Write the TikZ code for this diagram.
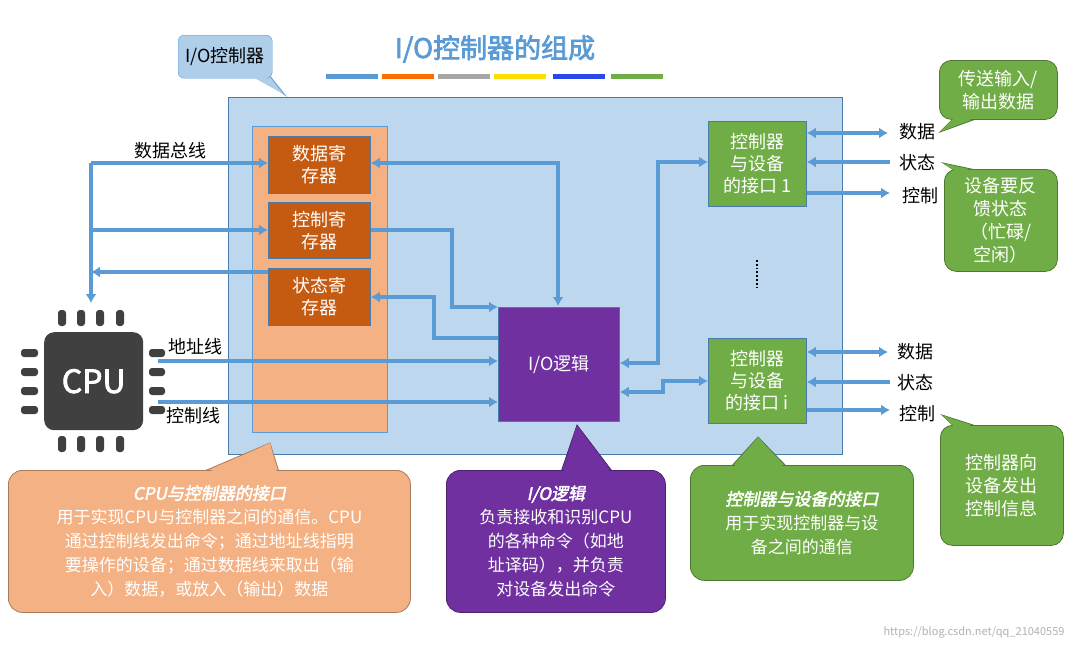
\documentclass[tikz,border=0pt]{standalone}
\usepackage{fontspec}
\setmainfont{Noto Sans CJK SC}[AutoFakeBold=2.5,AutoFakeSlant=0.2]
\usetikzlibrary{arrows.meta}
\definecolor{ln}{RGB}{91,155,213}
\definecolor{bgb}{RGB}{189,215,238}
\definecolor{orl}{RGB}{244,177,131}
\definecolor{ord}{RGB}{197,90,17}
\definecolor{pur}{RGB}{112,48,160}
\definecolor{grn}{RGB}{112,173,71}
\definecolor{cpu}{RGB}{64,64,64}
\definecolor{ttl}{RGB}{91,155,213}
\begin{document}
\begin{tikzpicture}[x=1pt,y=-1pt,
  ar/.style={draw=ln,line width=3.2pt,-{Latex[length=9pt,width=11pt]}},
  dar/.style={draw=ln,line width=3.2pt,{Latex[length=9pt,width=11pt]}-{Latex[length=9pt,width=11pt]}},
  box/.style={draw=ln!80!black,line width=0.8pt,inner sep=0pt,anchor=north west,text=white,align=center,font=\fontsize{18}{22}\selectfont},
  lab/.style={font=\fontsize{18}{20}\selectfont,inner sep=1pt},
  cbord/.style={line width=0.8pt},
  pin/.style={fill=cpu,rounded corners=3pt}]
\useasboundingbox (0,0) rectangle (1073,651);
\fill[white] (0,0) rectangle (1073,651);
% title
\node[font=\fontsize{27}{30}\selectfont\bfseries,text=ttl] (title) at (495,49) {I/O控制器的组成};
\foreach \a/\b/\c in {326/378/ln,382/434/orange!85!red,438/490/gray!70,494/546/yellow!80!orange,553/605/blue!55!ln,611/663/grn}
  \fill[\c] (\a,74) rectangle (\b,79);
% main box
\node[box,fill=bgb,minimum width=614pt,minimum height=357pt] (main) at (228,97) {};
\node[box,fill=orl,draw=ln,minimum width=135pt,minimum height=306pt] (col) at (252,126) {};
\node[box,fill=ord,minimum width=102pt,minimum height=57pt] (r1) at (268,136) {数据寄\\存器};
\node[box,fill=ord,minimum width=102pt,minimum height=56pt] (r2) at (268,202) {控制寄\\存器};
\node[box,fill=ord,minimum width=102pt,minimum height=57pt] (r3) at (268,268) {状态寄\\存器};
\node[box,fill=pur,minimum width=121pt,minimum height=114pt] (io) at (498,307) {I/O逻辑};
\node[box,fill=grn,minimum width=98pt,minimum height=85pt] (if1) at (708,121) {控制器\\与设备\\的接口 1};
\node[box,fill=grn,minimum width=98pt,minimum height=85pt] (ifi) at (708,338) {控制器\\与设备\\的接口 i};
\draw[line width=1.8pt,dotted] (757,260) -- (757,287);
% I/O controller callout
\fill[bgb!85!ln,draw=ln,cbord] (250,70) -- (285,95) -- (265,70) -- cycle;
\node[draw=ln,fill=bgb!85!ln,rounded corners=6pt,minimum width=94pt,minimum height=43pt,lab,anchor=north west,inner sep=0pt] (c0) at (178,35) {I/O控制器};
\fill[bgb!85!ln] (251,76) -- (285,95) -- (264,76) -- cycle;
% CPU
\node[fill=cpu,rounded corners=10pt,minimum width=99pt,minimum height=98pt,anchor=north west,text=white,font=\fontsize{32}{32}\selectfont\bfseries] (cpu) at (44,332) {CPU};
\foreach \x in {62,81,100,120} {\fill[pin] (\x-4,310) rectangle (\x+4,326); \fill[pin] (\x-4,436) rectangle (\x+4,452);}
\foreach \y in {353,372,391,410} {\fill[pin] (21,\y-4) rectangle (38,\y+4); \fill[pin] (149,\y-4) rectangle (165,\y+4);}
% data bus
\coordinate (bus) at (91,163);
\coordinate (cpuin) at (91,303);
\draw[ar] (bus) -- (r1.west |- bus);
\draw[ar] (bus) -- (cpuin);
\draw[ar] (bus |- 0,230) -- (r2.west |- 0,230);
\draw[ar] (r3.west |- 0,272) -- (bus |- 0,272);
\node[lab] (dbl) at (170,151) {数据总线};
\draw[dar] (r1.east |- 0,163) -- (558,163) -- (558,306);
\draw[ar] (r2.east |- 0,230) -- (452,230) -- (452,307) -- (io.west |- 0,307);
\draw[ar] (io.west |- 0,338) -- (434,338) -- (434,297) -- (r3.east |- 0,297);
\draw[ar] (158,361) -- (io.west |- 0,361);
\draw[ar] (158,402) -- (io.west |- 0,402);
\node[lab] (addr) at (195,347) {地址线};
\node[lab] (ctl) at (193,416) {控制线};
\draw[dar] (io.east |- 0,363) -- (658,363) -- (658,162) -- (if1.west |- 0,162);
\draw[dar] (io.east |- 0,392) -- (663,392) -- (663,381) -- (ifi.west |- 0,381);
% interface lines
\foreach \n/\a/\b/\c in {if1/133/162/193,ifi/352/382/410}{
  \draw[dar] (\n.east |- 0,\a) -- (888,\a);
  \draw[ar] (890,\b) -- (\n.east |- 0,\b);
  \draw[ar] (\n.east |- 0,\c) -- (890,\c);
}
\node[lab] (d1) at (917,132) {数据};
\node[lab] (s1) at (917,163) {状态};
\node[lab] (k1) at (920,196) {控制};
\node[lab] (d2) at (915,352) {数据};
\node[lab] (s2) at (915,383) {状态};
\node[lab] (k2) at (917,414) {控制};
% right callouts
\tikzset{gcall/.style={draw=grn!70!black,fill=grn,rounded corners=12pt,cbord,anchor=north west,text=white,align=center,font=\fontsize{18}{23}\selectfont,inner sep=0pt}}
\draw[grn!70!black,fill=grn,cbord] (960,112) -- (940,132) -- (995,112);
\node[gcall,minimum width=118pt,minimum height=59pt] (g1) at (939,60) {传送输入/\\输出数据};
\fill[grn] (962,110) -- (940,132) -- (993,110) -- cycle;
\draw[grn!70!black,fill=grn,cbord] (960,174) -- (943,163) -- (995,174);
\node[gcall,minimum width=113pt,minimum height=102pt] (g2) at (944,169) {设备要反\\馈状态\\（忙碌/\\空闲）};
\fill[grn] (962,176) -- (943,163) -- (993,176) -- cycle;
\draw[grn!70!black,fill=grn,cbord] (960,432) -- (942,415) -- (995,432);
\node[gcall,minimum width=123pt,minimum height=120pt] (g3) at (940,425) {控制器向\\设备发出\\控制信息};
\fill[grn] (962,434) -- (942,415) -- (993,434) -- cycle;
% bottom callouts
\draw[orl!70!black,fill=orl,cbord] (195,475) -- (270,443) -- (280,475);
\node[draw=orl!70!black,fill=orl,rounded corners=14pt,cbord,anchor=north west,minimum width=402pt,minimum height=142pt,inner sep=0pt,text=white,align=center,font=\fontsize{17}{24}\selectfont] (cc) at (8,470) {{\bfseries\itshape CPU与控制器的接口}\\用于实现CPU与控制器之间的通信。CPU\\通过控制线发出命令；通过地址线指明\\要操作的设备；通过数据线来取出（输\\入）数据，或放入（输出）数据};
\fill[orl] (198,477) -- (270,443) -- (278,477) -- cycle;
\draw[pur!70!black,fill=pur,cbord] (560,475) -- (577,425) -- (615,475);
\node[draw=pur!70!black,fill=pur,rounded corners=14pt,cbord,anchor=north west,minimum width=219pt,minimum height=142pt,inner sep=0pt,text=white,align=center,font=\fontsize{17}{24}\selectfont] (ci) at (446,470) {{\bfseries\itshape I/O逻辑}\\负责接收和识别CPU\\的各种命令（如地\\址译码），并负责\\对设备发出命令};
\fill[pur] (562,477) -- (577,425) -- (613,477) -- cycle;
\draw[grn!70!black,fill=grn,cbord] (728,470) -- (758,437) -- (790,470);
\node[draw=grn!70!black,fill=grn,rounded corners=14pt,cbord,anchor=north west,minimum width=223pt,minimum height=115pt,inner sep=0pt,text=white,align=center,font=\fontsize{17}{24}\selectfont] (cg) at (690,465) {{\bfseries\itshape 控制器与设备的接口}\\用于实现控制器与设\\备之间的通信};
\fill[grn] (730,472) -- (758,437) -- (788,472) -- cycle;
\node[text=gray!60,font=\fontsize{11}{12}\selectfont,anchor=south east] (wm) at (1068,642) {https://blog.csdn.net/qq\_21040559};
\end{tikzpicture}
\end{document}
